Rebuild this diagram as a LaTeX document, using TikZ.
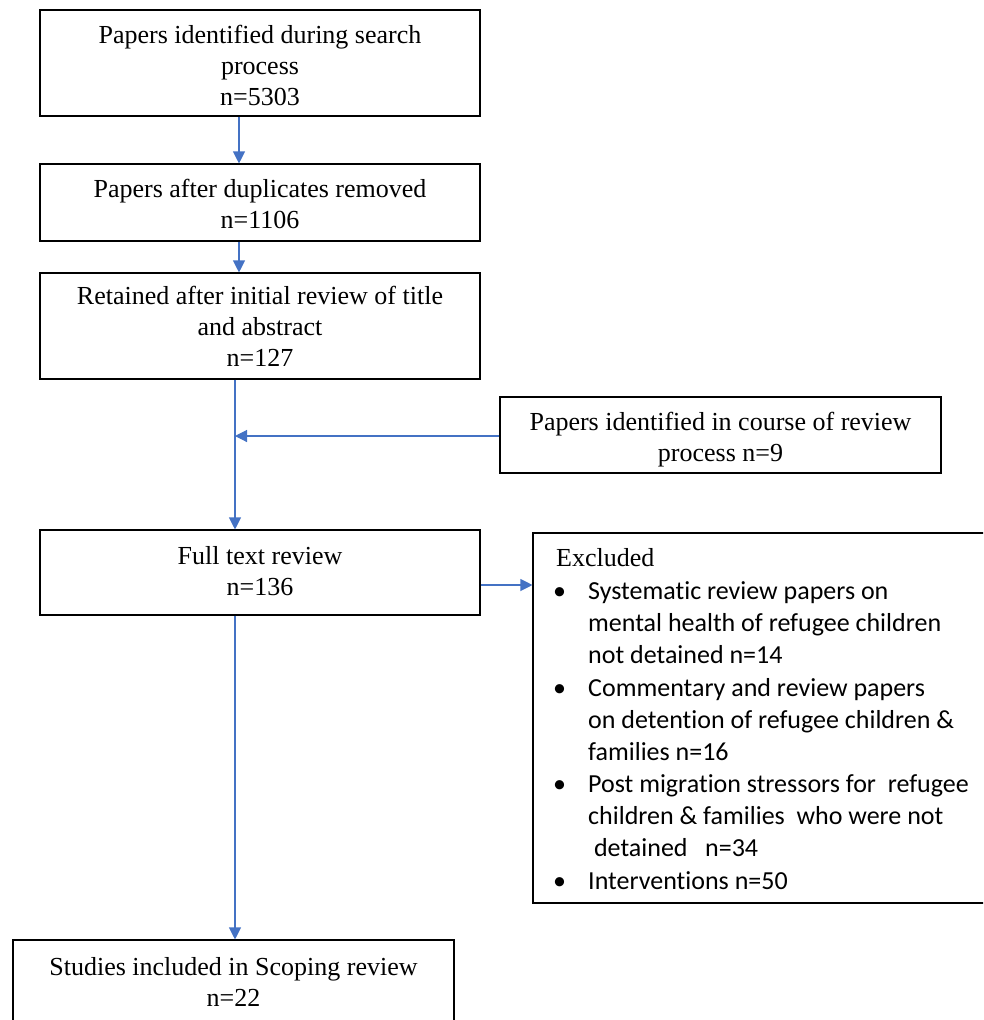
\documentclass[tikz,border=0pt]{standalone}
\usepackage{fontspec}
\setmainfont{Liberation Serif}
\newfontfamily\calib[Ligatures=NoCommon]{Carlito}
\usetikzlibrary{arrows.meta}
\definecolor{arrowblue}{HTML}{4472C4}
\newcommand{\xbul}{\makebox[32pt][l]{\kern-3pt•}}
\newcommand{\xind}{\hspace*{32pt}}
\newcommand{\xtop}[1]{\rule{0pt}{#1}}
\begin{document}
\begin{tikzpicture}[x=1pt,y=-1pt,
 box/.style={draw=black,line width=1.1pt,align=center,inner sep=0pt,font=\fontsize{26}{31}\selectfont},
 arr/.style={draw=arrowblue,line width=1.1pt,-{Triangle[width=12pt,length=12pt]}}]
\clip (0,0) rectangle (983,1020);
\useasboundingbox (0,0) rectangle (983,1020);
\node[box,minimum width=440pt,minimum height=106pt] (b1) at (260,63) {\xtop{24pt}Papers identified during search\\process\\n=5303};
\node[box,minimum width=440pt,minimum height=77pt] (b2) at (260,202.5) {\xtop{22pt}Papers after duplicates removed\\n=1106};
\node[box,minimum width=440pt,minimum height=106pt] (b3) at (260,326) {Retained after initial review of title\\and abstract\\n=127};
\node[box,minimum width=441pt,minimum height=76pt] (b4) at (720.5,435) {\xtop{28pt}Papers identified in course of review\\process n=9};
\node[box,minimum width=440pt,minimum height=85pt] (b5) at (260,572.5) {Full text review\\n=136\rule[-4pt]{0pt}{4pt}};
\node[box,minimum width=467pt,minimum height=370pt] (b6) at (766.5,718) {};
\node[anchor=north west,align=left,inner sep=0pt,font=\calib\fontsize{26}{32}\selectfont] (b6t) at (556,548) {{\rmfamily Excluded}\\[1pt]
\xbul Systematic review papers on\\
\xind mental health of refugee children\\
\xind not detained n=14\\[1pt]
\xbul Commentary and review papers\\
\xind on detention of refugee children \&\\
\xind families n=16\\
\xbul Post migration stressors for \ refugee\\
\xind children \& families \ who were not\\
\xind \ detained \ \ n=34\\[1pt]
\xbul Interventions n=50};
\node[box,minimum width=441pt,minimum height=84pt] (b7) at (233.5,982) {Studies included in Scoping review\\n=22};
\coordinate (c1) at (239,0);
\coordinate (j) at (235,436);
\coordinate (k) at (0,585);
\draw[arr] (b1.south -| c1) -- (b2.north -| c1);
\draw[arr] (b2.south -| c1) -- (b3.north -| c1);
\draw[arr] (b4.west |- j) -- (j);
\draw[arr] (b3.south -| j) -- (b5.north -| j);
\draw[arr] (b5.east |- k) -- (b6.west |- k);
\draw[arr] (b5.south -| j) -- (b7.north -| j);
\end{tikzpicture}
\end{document}
